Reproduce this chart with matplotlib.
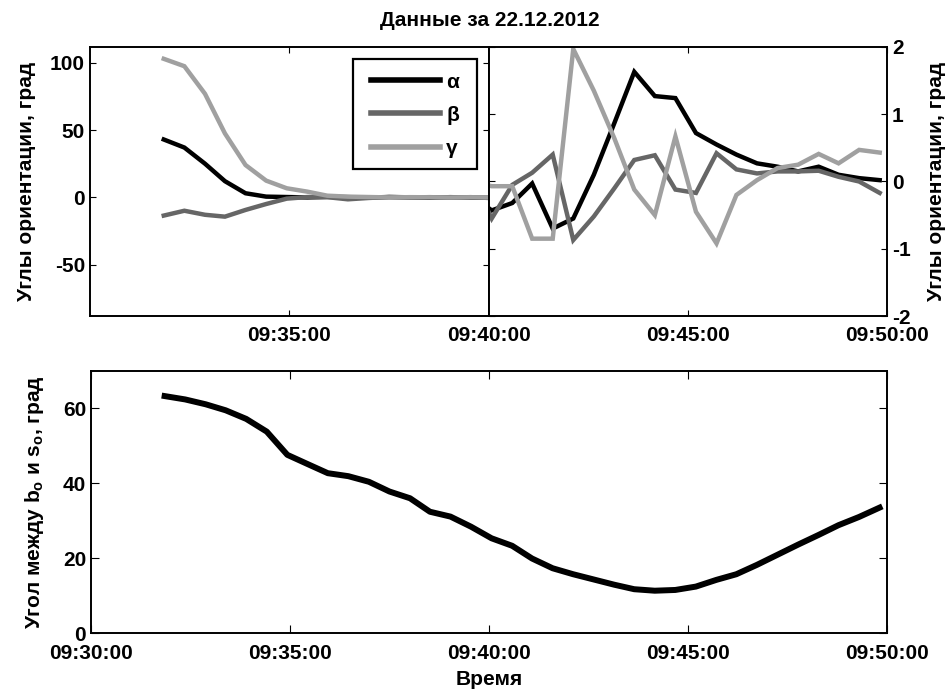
import numpy as np
import pandas as pd
import matplotlib
matplotlib.use('Agg')
import matplotlib.pyplot as plt
import matplotlib.dates as mdates
from matplotlib.patches import Rectangle

plt.rcParams['font.family'] = ['Liberation Sans', 'DejaVu Sans']
plt.rcParams['font.weight'] = 'bold'
plt.rcParams['axes.labelweight'] = 'bold'
plt.rcParams['axes.titleweight'] = 'bold'
plt.rcParams['axes.unicode_minus'] = False
plt.rcParams['mathtext.fontset'] = 'custom'
plt.rcParams['mathtext.rm'] = 'Liberation Sans:bold'

# Время измерений (22.12.2012)
times = ['09:31:51', '09:32:22', '09:32:53', '09:33:23', '09:33:54', '09:34:25',
         '09:34:56', '09:35:27', '09:35:57', '09:36:28', '09:36:59', '09:37:30',
         '09:38:01', '09:38:31', '09:39:02', '09:39:33', '09:40:04', '09:40:35',
         '09:41:05', '09:41:36', '09:42:07', '09:42:38', '09:43:09', '09:43:39',
         '09:44:10', '09:44:41', '09:45:12', '09:45:43', '09:46:13', '09:46:44',
         '09:47:15', '09:47:46', '09:48:17', '09:48:47', '09:49:18', '09:49:49']

# Углы ориентации, град
alpha = [43, 37, 25, 12, 3, 0.5, 0.2, -0.1, 0.3, 0.1, -0.2, 0.2, 0.0, -0.3, 0.1, -0.2,
         -0.43, -0.32, -0.03, -0.70, -0.55, 0.10, 0.87, 1.63, 1.27, 1.24, 0.72, 0.55,
         0.40, 0.27, 0.22, 0.15, 0.22, 0.10, 0.05, 0.02]
beta = [-13.6, -10, -13, -14.4, -9.4, -5, -1.0, 0.2, 0.1, -1.5, -0.5, 0.2, -0.1, 0.1, -0.2, 0.1,
        -0.55, -0.05, 0.13, 0.40, -0.87, -0.52, -0.10, 0.32, 0.39, -0.12, -0.17, 0.42,
        0.18, 0.12, 0.15, 0.15, 0.16, 0.07, 0.0, -0.17]
gamma = [103, 97.5, 77, 47.5, 24, 12.4, 6.7, 4.2, 1.2, 0.5, 0.2, -0.1, 0.1, 0.0, -0.1, 0.0,
         -0.07, -0.07, -0.85, -0.85, 1.97, 1.35, 0.64, -0.12, -0.50, 0.67, -0.45, -0.92,
         -0.20, 0.02, 0.20, 0.25, 0.41, 0.27, 0.47, 0.43]

# Угол между b_o и s_o, град
angle_bs = [63.3, 62.4, 61.1, 59.5, 57.2, 53.8, 47.6, 45.1, 42.7, 41.9, 40.4, 37.8,
            36.0, 32.4, 31.1, 28.4, 25.3, 23.3, 19.9, 17.3, 15.7, 14.3, 12.9, 11.7,
            11.3, 11.5, 12.4, 14.2, 15.7, 18.2, 20.9, 23.6, 26.2, 28.8, 31.0, 33.5]

t = pd.to_datetime(['2012-12-22 ' + s for s in times])
def T(s):
    return pd.Timestamp('2012-12-22 ' + s)

colors = ['black', '#666666', '#a0a0a0']
labels = ['α', 'β', 'γ']
series = [alpha, beta, gamma]

fig = plt.figure(figsize=(9.52, 6.95), dpi=100)
ax1 = fig.add_axes([0.0945, 0.5453, 0.419, 0.3871])
ax2 = fig.add_axes([0.5137, 0.5453, 0.418, 0.3871])
ax3 = fig.add_axes([0.0956, 0.0892, 0.836, 0.377])

fs = 15
fmt = mdates.DateFormatter('%H:%M:%S')

for ax in (ax1, ax2, ax3):
    for sp in ax.spines.values():
        sp.set_linewidth(1.4)
    ax.xaxis.set_major_formatter(fmt)
    ax.tick_params(direction='in', top=True, right=True, labelsize=fs, width=0.8)

for ax in (ax1, ax2):
    for y, c, lab in zip(series, colors, labels):
        ax.plot(t, y, color=c, linewidth=3.2, label=lab, solid_joinstyle='miter')
    ax.tick_params(length=4)
    ax.tick_params(axis='x', pad=7)

# Верхний левый график
ax1.set_xlim(T('09:30:00'), T('09:40:00'))
ax1.set_xticks([T('09:35:00'), T('09:40:00')])
ax1.set_ylim(-88.3, 111.8)
ax1.set_yticks([-50, 0, 50, 100])
ax1.set_ylabel('Углы ориентации, град', fontsize=fs, labelpad=10)

# легенда: рамка отдельным прямоугольником, как в исходнике
ax1.add_patch(Rectangle((0.659, 0.5465), 0.311, 0.4095, transform=ax1.transAxes,
                        facecolor='white', edgecolor='black', linewidth=1.6, zorder=4))
leg = ax1.legend(loc='upper left', bbox_to_anchor=(0.668, 0.959), fontsize=15,
                 handlelength=3.3, handletextpad=0.3, labelspacing=0.68,
                 borderpad=0.7, borderaxespad=0, frameon=False)
leg.set_zorder(5)
for ln in leg.get_lines():
    ln.set_linewidth(4)

# Верхний правый график
ax2.set_xlim(T('09:40:00'), T('09:50:00'))
ax2.set_xticks([T('09:45:00'), T('09:50:00')])
ax2.set_ylim(-2, 2)
ax2.set_yticks([-2, -1, 0, 1, 2])
ax2.yaxis.set_label_position('right')
ax2.tick_params(labelleft=False, labelright=True)
ax2.set_ylabel('Углы ориентации, град', fontsize=fs, labelpad=12)

ax1.set_title('Данные за 22.12.2012', fontsize=fs, pad=15,
              x=(490 - 90) / 399, ha='center')

# Нижний график
ax3.plot(t, angle_bs, color='black', linewidth=4.3)
ax3.set_xlim(T('09:30:00'), T('09:50:00'))
ax3.set_xticks([T('09:%02d:00' % m) for m in (30, 35, 40, 45, 50)])
ax3.set_ylim(0, 70)
ax3.set_yticks([0, 20, 40, 60])
ax3.tick_params(length=6)
ax3.tick_params(axis='x', pad=8)
ax3.set_xlabel('Время', fontsize=fs, labelpad=5)
ax3.set_ylabel(r'Угол между b$_\mathrm{o}$ и s$_\mathrm{o}$, град', fontsize=fs, labelpad=12)

fig.savefig('out.png', dpi=100)
